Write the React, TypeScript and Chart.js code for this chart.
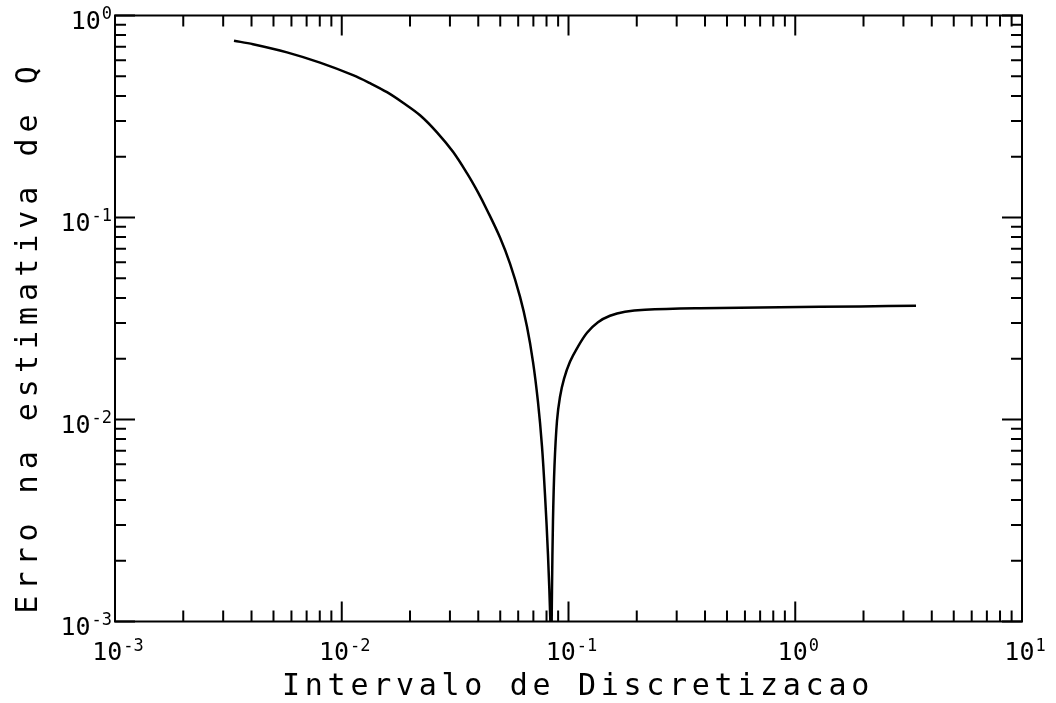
import React, { useEffect, useRef } from 'react';
import { Chart, registerables } from 'chart.js';

Chart.register(...registerables);

// Curve (x = interval, y = error)
const X_VALUES = [
  0.003348, 0.004061, 0.005735, 0.008019, 0.01121, 0.01332, 0.01583, 0.01863, 0.02214,
  0.0263, 0.03095, 0.03604, 0.0399, 0.0437, 0.04988, 0.05521, 0.0611, 0.06562, 0.06973,
  0.07335, 0.07638, 0.07874, 0.08118, 0.08327, 0.08386,
  0.08455, 0.08541, 0.08673, 0.08896, 0.09171, 0.09554, 0.1015, 0.109, 0.1207,
  0.1349, 0.1524, 0.1775, 0.2175, 0.3801, 0.8563, 1.93, 3.408,
];
const Y_VALUES = [
  0.7497, 0.7211, 0.6569, 0.5843, 0.5067, 0.4624, 0.4173, 0.37, 0.3208,
  0.2641, 0.2114, 0.1625, 0.1331, 0.109, 0.07958, 0.0591, 0.04055, 0.02877, 0.01929,
  0.01221, 0.007387, 0.004269, 0.00215, 0.000966, 0.0006,
  0.001409, 0.003135, 0.005877, 0.00983, 0.01293, 0.01589, 0.01929, 0.02251, 0.02687,
  0.0303, 0.03263, 0.03416, 0.03495, 0.03556, 0.03597, 0.0363, 0.03659,
];

const X_DECADE_EXPONENTS = [-3, -2, -1, 0, 1];
const Y_DECADE_EXPONENTS = [-3, -2, -1, 0];
const MINOR_MULTIPLIERS = [2, 3, 4, 5, 6, 7, 8, 9];
const X_TITLE = 'Intervalo de Discretizacao';
const Y_TITLE = 'Erro na estimativa de Q';

const FONT = '"DejaVu Sans Mono", monospace';

function drawPow(ctx: CanvasRenderingContext2D, exp: number, x: number, baseBaseline: number, expBaseline: number, align: 'center' | 'right') {
  const expText = String(exp);
  ctx.font = `25px ${FONT}`;
  const w1 = ctx.measureText('10').width;
  ctx.font = `17px ${FONT}`;
  const w2 = ctx.measureText(expText).width;
  const total = w1 + 1 + w2;
  const left = align === 'center' ? x - total / 2 : x - total;
  ctx.textAlign = 'left';
  ctx.textBaseline = 'alphabetic';
  ctx.font = `25px ${FONT}`;
  ctx.fillText('10', left, baseBaseline);
  ctx.font = `17px ${FONT}`;
  ctx.fillText(expText, left + w1 + 1, expBaseline);
}

const plotterPlugin = {
  id: 'plotterFrame',
  afterDatasetsDraw(chart: any) {
    const { ctx, chartArea: a, scales } = chart;
    const xs = scales.x;
    const ys = scales.y;
    ctx.save();
    ctx.strokeStyle = '#000';
    ctx.fillStyle = '#000';
    ctx.lineWidth = 2;
    ctx.strokeRect(a.left, a.top, a.right - a.left, a.bottom - a.top);

    const majorLen = 20;
    const minorLen = 11;
    ctx.beginPath();
    X_DECADE_EXPONENTS.forEach((e, i) => {
      const base = Math.pow(10, e);
      const px = xs.getPixelForValue(base);
      ctx.moveTo(px, a.bottom); ctx.lineTo(px, a.bottom - majorLen);
      ctx.moveTo(px, a.top); ctx.lineTo(px, a.top + majorLen);
      if (i < X_DECADE_EXPONENTS.length - 1) {
        MINOR_MULTIPLIERS.forEach((m) => {
          const p = xs.getPixelForValue(m * base);
          ctx.moveTo(p, a.bottom); ctx.lineTo(p, a.bottom - minorLen);
          ctx.moveTo(p, a.top); ctx.lineTo(p, a.top + minorLen);
        });
      }
    });
    Y_DECADE_EXPONENTS.forEach((e, i) => {
      const base = Math.pow(10, e);
      const py = ys.getPixelForValue(base);
      ctx.moveTo(a.left, py); ctx.lineTo(a.left + majorLen, py);
      ctx.moveTo(a.right, py); ctx.lineTo(a.right - majorLen, py);
      if (i < Y_DECADE_EXPONENTS.length - 1) {
        MINOR_MULTIPLIERS.forEach((m) => {
          const p = ys.getPixelForValue(m * base);
          ctx.moveTo(a.left, p); ctx.lineTo(a.left + minorLen, p);
          ctx.moveTo(a.right, p); ctx.lineTo(a.right - minorLen, p);
        });
      }
    });
    ctx.stroke();

    // tick labels
    X_DECADE_EXPONENTS.forEach((e) => {
      const px = xs.getPixelForValue(Math.pow(10, e));
      drawPow(ctx, e, px + 3, a.bottom + 38, a.bottom + 29, 'center');
    });
    Y_DECADE_EXPONENTS.forEach((e) => {
      const py = ys.getPixelForValue(Math.pow(10, e));
      drawPow(ctx, e, a.left - 3, py + 13, py + 3, 'right');
    });

    // axis titles
    ctx.font = `30px ${FONT}`;
    ctx.textAlign = 'center';
    ctx.textBaseline = 'alphabetic';
    (ctx as any).letterSpacing = '4.7px';
    ctx.fillText(X_TITLE, 578, 695);
    (ctx as any).letterSpacing = '6px';
    ctx.save();
    ctx.translate(37, 337);
    ctx.rotate(-Math.PI / 2);
    ctx.fillText(Y_TITLE, 0, 0);
    ctx.restore();
    (ctx as any).letterSpacing = '0px';
    ctx.restore();
  },
};

export default function App() {
  const canvasRef = useRef<HTMLCanvasElement | null>(null);
  useEffect(() => {
    document.body.style.margin = '0';
    document.body.style.overflow = 'hidden';
    const canvas = canvasRef.current;
    if (!canvas) return;
    const points = X_VALUES.map((x, i) => ({ x, y: Y_VALUES[i] }));
    const chart = new Chart(canvas, {
      type: 'line',
      data: {
        datasets: [
          {
            data: points,
            borderColor: '#000',
            borderWidth: 2.5,
            pointRadius: 0,
            fill: false,
            tension: 0.35,
          },
        ],
      },
      options: {
        animation: false,
        responsive: false,
        maintainAspectRatio: false,
        layout: { padding: { left: 115, right: 34, top: 15.5, bottom: 81.5 } },
        plugins: { legend: { display: false }, tooltip: { enabled: false } },
        scales: {
          x: { type: 'logarithmic', min: 0.001, max: 10, display: false },
          y: { type: 'logarithmic', min: 0.001, max: 1, display: false },
        },
      },
      plugins: [plotterPlugin],
    } as any);
    return () => chart.destroy();
  }, []);
  return (
    <div style={{ width: 1056, height: 703, background: '#fff' }}>
      <canvas ref={canvasRef} width={1056} height={703} style={{ display: 'block' }} />
    </div>
  );
}
